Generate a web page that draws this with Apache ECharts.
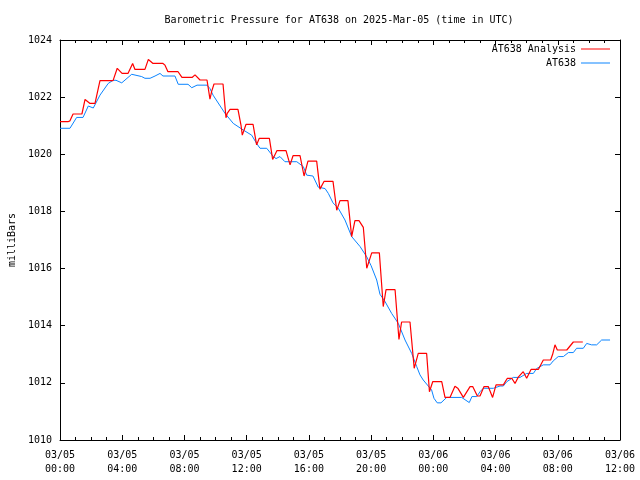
<!DOCTYPE html>
<html>
<head>
<meta charset="utf-8">
<script src="https://cdn.jsdelivr.net/npm/echarts@6/dist/echarts.min.js"></script>
<style>html,body{margin:0;padding:0;background:#fff}#c{width:640px;height:480px}</style>
</head>
<body>
<div id="c"></div>
<script>
// Hours since 2025-03-05 00:00 UTC
const xTickLabels = ['03/05\n00:00','03/05\n04:00','03/05\n08:00','03/05\n12:00','03/05\n16:00','03/05\n20:00','03/06\n00:00','03/06\n04:00','03/06\n08:00','03/06\n12:00'];

const obsHours = [0.0,0.64,1.07,1.48,1.82,2.14,2.57,3.1,3.41,3.6,3.97,4.61,5.25,5.46,5.79,6.11,6.43,6.62,7.39,7.6,8.23,8.47,8.81,9.45,9.64,9.84,10.61,11.14,11.78,12.32,12.64,12.86,13.29,13.71,13.89,14.14,14.46,15.22,15.64,15.86,16.26,16.6,17.04,17.25,17.55,17.89,18.32,18.75,19.29,19.72,20.0,20.36,20.57,20.89,21.32,21.75,22.18,22.61,22.93,23.14,23.35,23.89,24.04,24.25,24.49,24.86,25.82,26.31,26.48,26.79,27.0,27.21,27.64,27.86,28.29,28.5,28.72,29.14,29.57,30.0,30.43,30.64,31.07,31.5,31.71,32.03,32.36,32.68,33.0,33.21,33.64,33.86,34.17,34.5,34.82,35.36];
const obsValues = [1020.91,1020.91,1021.29,1021.29,1021.69,1021.62,1022.07,1022.48,1022.59,1022.59,1022.5,1022.8,1022.72,1022.66,1022.66,1022.74,1022.83,1022.74,1022.74,1022.45,1022.45,1022.33,1022.42,1022.42,1022.3,1022.07,1021.43,1021.08,1020.85,1020.67,1020.38,1020.21,1020.21,1019.92,1019.85,1019.92,1019.74,1019.74,1019.57,1019.27,1019.24,1018.85,1018.8,1018.63,1018.3,1018.11,1017.7,1017.12,1016.77,1016.41,1016.1,1015.6,1015.1,1014.85,1014.43,1014.08,1013.5,1013.03,1012.57,1012.28,1012.1,1011.75,1011.46,1011.3,1011.3,1011.49,1011.49,1011.31,1011.52,1011.52,1011.69,1011.81,1011.81,1011.81,1011.89,1011.89,1012.04,1012.19,1012.19,1012.33,1012.33,1012.5,1012.63,1012.63,1012.77,1012.92,1012.92,1013.06,1013.06,1013.21,1013.21,1013.38,1013.33,1013.33,1013.5,1013.5];

const anaHours = [0.0,0.51,0.64,0.84,1.41,1.61,1.93,2.25,2.57,3.41,3.68,3.99,4.37,4.67,4.82,5.46,5.68,5.98,6.62,6.75,6.94,7.59,7.84,8.49,8.68,9.0,9.45,9.64,9.75,9.9,10.48,10.57,10.67,10.75,10.93,11.44,11.64,11.72,11.96,12.41,12.64,12.81,13.46,13.67,13.95,14.53,14.79,14.98,15.43,15.69,15.94,16.5,16.71,16.97,17.55,17.79,18.0,18.51,18.75,18.96,19.22,19.5,19.72,20.04,20.53,20.78,20.96,21.54,21.79,21.96,22.5,22.77,23.03,23.57,23.75,23.96,24.54,24.75,25.07,25.39,25.59,25.93,26.04,26.36,26.53,26.83,27.0,27.26,27.53,27.81,28.03,28.5,28.76,29.04,29.25,29.46,29.78,30.0,30.28,30.75,31.07,31.54,31.67,31.82,31.97,32.58,33.0,33.61];
const anaValues = [1021.14,1021.14,1021.17,1021.41,1021.41,1021.92,1021.78,1021.78,1022.58,1022.58,1023.01,1022.83,1022.83,1023.18,1022.97,1022.97,1023.32,1023.18,1023.18,1023.12,1022.89,1022.89,1022.69,1022.69,1022.78,1022.6,1022.6,1021.93,1022.2,1022.46,1022.46,1021.9,1021.28,1021.43,1021.57,1021.57,1021.0,1020.67,1021.05,1021.05,1020.33,1020.56,1020.56,1019.82,1020.13,1020.13,1019.63,1019.95,1019.95,1019.24,1019.76,1019.76,1018.78,1019.05,1019.05,1018.04,1018.38,1018.38,1017.12,1017.68,1017.68,1017.44,1016.01,1016.55,1016.55,1014.67,1015.26,1015.26,1013.52,1014.13,1014.13,1012.51,1013.03,1013.03,1011.69,1012.04,1012.04,1011.49,1011.49,1011.88,1011.8,1011.49,1011.49,1011.87,1011.87,1011.54,1011.54,1011.87,1011.87,1011.49,1011.93,1011.93,1012.16,1012.16,1011.98,1012.2,1012.39,1012.16,1012.47,1012.47,1012.8,1012.8,1013.0,1013.33,1013.15,1013.15,1013.43,1013.43];

const seriesNames = ['AT638 Analysis', 'AT638'];
const titleText = 'Barometric Pressure for AT638 on 2025-Mar-05 (time in UTC)';
const yName = 'milliBars';

const FONT = 'DejaVu Sans Mono';
const zip = (a, b) => a.map((v, i) => [v, b[i]]);

const chart = echarts.init(document.getElementById('c'), null, {renderer: 'canvas'});
const axisCommon = {
  min: 0, max: 36, interval: 4, type: 'value',
  axisLine: {show: true, onZero: false, lineStyle: {color: '#000', width: 1}},
  axisTick: {show: true, inside: true, length: 5, lineStyle: {color: '#000'}},
  minorTick: {show: true, splitNumber: 4, length: 3, lineStyle: {color: '#000'}},
  splitLine: {show: false}
};
const yCommon = {
  type: 'value', min: 1010, max: 1024, interval: 2,
  axisLine: {show: true, onZero: false, lineStyle: {color: '#000', width: 1}},
  axisTick: {show: true, inside: true, length: 5, lineStyle: {color: '#000'}},
  splitLine: {show: false}
};
chart.setOption({
  animation: false,
  backgroundColor: '#fff',
  title: {
    text: titleText, left: 334, top: 10, textAlign: 'center',
    textStyle: {fontFamily: FONT, fontSize: 10, fontWeight: 'normal', color: '#000'}
  },
  legend: [
    {data: [seriesNames[0]], right: 25, top: 39, orient: 'vertical', align: 'right',
     itemWidth: 29, itemHeight: 1, icon: 'rect', itemGap: 4,
     textStyle: {fontFamily: FONT, fontSize: 10, color: '#000'}},
    {data: [seriesNames[1]], right: 25, top: 53, orient: 'vertical', align: 'right',
     itemWidth: 29, itemHeight: 1, icon: 'rect', itemGap: 4,
     textStyle: {fontFamily: FONT, fontSize: 10, color: '#000'}}
  ],
  grid: {left: 60, right: 20, top: 40, bottom: 40, containLabel: false, outerBoundsMode: 'none'},
  xAxis: [
    Object.assign({}, axisCommon, {
      position: 'bottom',
      axisLabel: {
        fontFamily: FONT, fontSize: 10, color: '#000', margin: 8, lineHeight: 14,
        formatter: v => xTickLabels[Math.round(v / 4)]
      }
    }),
    Object.assign({}, axisCommon, {position: 'top', axisLabel: {show: false}})
  ],
  yAxis: [
    Object.assign({}, yCommon, {
      position: 'left',
      name: yName, nameLocation: 'middle', nameGap: 42, nameRotate: 90,
      nameTextStyle: {fontFamily: FONT, fontSize: 10, color: '#000'},
      axisLabel: {fontFamily: FONT, fontSize: 10, color: '#000', margin: 8, formatter: v => String(v)}
    }),
    Object.assign({}, yCommon, {position: 'right', axisLabel: {show: false}})
  ],
  series: [
    {name: seriesNames[0], type: 'line', data: zip(anaHours, anaValues), showSymbol: false,
     lineStyle: {color: '#ff0000', width: 1.2}, itemStyle: {color: '#ff0000'}, z: 3},
    {name: seriesNames[1], type: 'line', data: zip(obsHours, obsValues), showSymbol: false,
     lineStyle: {color: '#0a84ff', width: 1}, itemStyle: {color: '#0a84ff'}, z: 2}
  ]
});
</script>
</body>
</html>
